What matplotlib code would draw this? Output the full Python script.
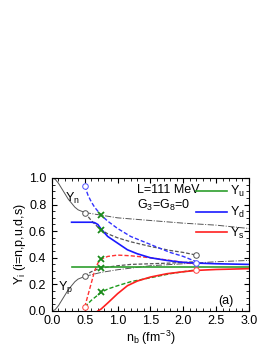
import numpy as np
import matplotlib.pyplot as plt
from matplotlib.ticker import MultipleLocator

plt.rcParams['font.family'] = ['Liberation Sans', 'DejaVu Sans']
plt.rcParams['mathtext.fontset'] = 'custom'
plt.rcParams['mathtext.rm'] = 'Liberation Sans'
plt.rcParams['mathtext.it'] = 'Liberation Sans'

# hadronic phase (pure)
nb_h = [0.0, 0.05, 0.1, 0.15, 0.2, 0.25, 0.3, 0.35, 0.4, 0.45, 0.5]
yn_h = [1.0, 0.99, 0.96, 0.92, 0.88, 0.84, 0.81, 0.78, 0.76, 0.75, 0.74]
yp_h = [0.0, 0.01, 0.04, 0.08, 0.12, 0.16, 0.19, 0.22, 0.24, 0.25, 0.26]

# metastable hadronic continuation
nb_hm = [0.5, 0.75, 1.0, 1.5, 2.0, 2.5, 3.0]
yn_hm = [0.74, 0.72, 0.70, 0.68, 0.66, 0.645, 0.62]
yp_hm = [0.26, 0.29, 0.31, 0.34, 0.355, 0.37, 0.38]

# pure quark matter
nb_q = [0.3, 0.5, 0.6, 0.65, 0.7, 0.75, 0.85, 1.0, 1.15, 1.3, 1.5, 1.75, 2.0, 2.2, 2.5, 3.0]
yu_q = [0.333] * 16
yd_q = [0.667, 0.667, 0.667, 0.664, 0.65, 0.615, 0.56, 0.51, 0.46, 0.43, 0.40, 0.38, 0.365, 0.36, 0.355, 0.35]
nb_s = [0.7, 0.75, 0.85, 1.0, 1.15, 1.3, 1.5, 1.75, 2.0, 2.2, 2.5, 3.0]
ys_q = [0.0, 0.015, 0.06, 0.13, 0.19, 0.225, 0.255, 0.28, 0.295, 0.305, 0.312, 0.318]

# mixed phase
nb_m = [0.5, 0.55, 0.6, 0.65, 0.7, 0.75, 0.85, 1.0, 1.2, 1.5, 1.8, 2.0, 2.2]
yn_m = [0.74, 0.71, 0.68, 0.655, 0.63, 0.61, 0.58, 0.55, 0.52, 0.485, 0.455, 0.44, 0.42]
yp_m = [0.26, 0.28, 0.295, 0.305, 0.315, 0.32, 0.33, 0.34, 0.35, 0.355, 0.36, 0.365, 0.37]
yd_m = [0.94, 0.87, 0.82, 0.78, 0.75, 0.72, 0.675, 0.62, 0.56, 0.50, 0.44, 0.41, 0.37]
ys_m = [0.03, 0.12, 0.21, 0.3, 0.36, 0.39, 0.41, 0.42, 0.415, 0.40, 0.38, 0.365, 0.35]
yu_m = [0.03, 0.055, 0.08, 0.10, 0.12, 0.14, 0.165, 0.19, 0.22, 0.25, 0.28, 0.295, 0.31]

# phase boundaries and marked points
nb_start = 0.5
start_y = [0.94, 0.74, 0.26, 0.03]
start_c = ['#5050ff', '#555555', '#555555', '#ff4040']
nb_end = 2.2
end_y = [0.42, 0.36, 0.31]
end_c = ['#555555', '#5050ff', '#ff4040']
nb_x = 0.75
x_y = [0.72, 0.61, 0.39, 0.32, 0.14]

fig = plt.figure(figsize=(2.73, 3.53), dpi=100)
ax = fig.add_axes([0.190, 0.119, 0.722, 0.377])

gray = '#555555'
dash = (0, (3, 1.5))
ax.plot(nb_h, yn_h, color=gray, lw=0.7)
ax.plot(nb_h, yp_h, color=gray, lw=0.7)
ax.plot(nb_hm, yn_hm, color=gray, lw=0.7, ls='-.')
ax.plot(nb_hm, yp_hm, color=gray, lw=0.7, ls='-.')

ax.plot(nb_m, yn_m, color=gray, lw=0.9, ls=dash)
ax.plot(nb_m, yp_m, color=gray, lw=0.9, ls=dash)
ax.plot(nb_m, yd_m, color='#3333ff', lw=1.0, ls=dash)
ax.plot(nb_m, ys_m, color='#ff3333', lw=1.0, ls=dash)
ax.plot(nb_m, yu_m, color='#1a9a1a', lw=1.0, ls=dash)

ax.plot(nb_q, yu_q, color='#2e9e2e', lw=1.2, label='Y$_\\mathregular{u}$')
ax.plot(nb_q, yd_q, color='#1a1aff', lw=1.2, label='Y$_\\mathregular{d}$')
ax.plot(nb_s, ys_q, color='#ff2020', lw=1.2, label='Y$_\\mathregular{s}$')

for y, c in zip(start_y, start_c):
    ax.plot(nb_start, y, 'o', ms=4, mfc='white', mec=c, mew=0.7)
for y, c in zip(end_y, end_c):
    ax.plot(nb_end, y, 'o', ms=4, mfc='white', mec=c, mew=0.7)
ax.plot([nb_x] * len(x_y), x_y, 'x', ms=5, color='#1a8a1a', mew=1.3)

ax.text(0.2, 0.82, 'Y$_\\mathregular{n}$', fontsize=9)
ax.text(0.09, 0.16, 'Y$_\\mathregular{p}$', fontsize=9)
ax.text(1.29, 0.885, 'L=111 MeV', fontsize=9)
ax.text(1.29, 0.765, 'G$_\\mathregular{3}$=G$_\\mathregular{8}$=0', fontsize=9)
ax.text(2.53, 0.05, '(a)', fontsize=9)

leg = ax.legend(loc='upper right', frameon=False, fontsize=9, handlelength=2.5,
                handletextpad=0.2, labelspacing=0.45, borderaxespad=0.1,
                bbox_to_anchor=(1.01, 1.0))

ax.set_xlim(0, 3.0)
ax.set_ylim(0, 1.0)
ax.xaxis.set_major_locator(MultipleLocator(0.5))
ax.xaxis.set_minor_locator(MultipleLocator(0.1))
ax.yaxis.set_major_locator(MultipleLocator(0.2))
ax.yaxis.set_minor_locator(MultipleLocator(0.05))
ax.tick_params(which='both', direction='in', top=True, right=True, labelsize=9)
ax.tick_params(axis='x', pad=3)
ax.tick_params(axis='y', pad=4)
ax.tick_params(which='major', length=3.5)
ax.tick_params(which='minor', length=2)
ax.set_xlabel('n$_\\mathregular{b}$ (fm$^\\mathregular{-3}$)', fontsize=9, labelpad=1)
ax.set_ylabel('Y$_\\mathregular{i}$ (i=n,p,u,d,s)', fontsize=9, labelpad=1)

fig.savefig('out.png', dpi=100)
